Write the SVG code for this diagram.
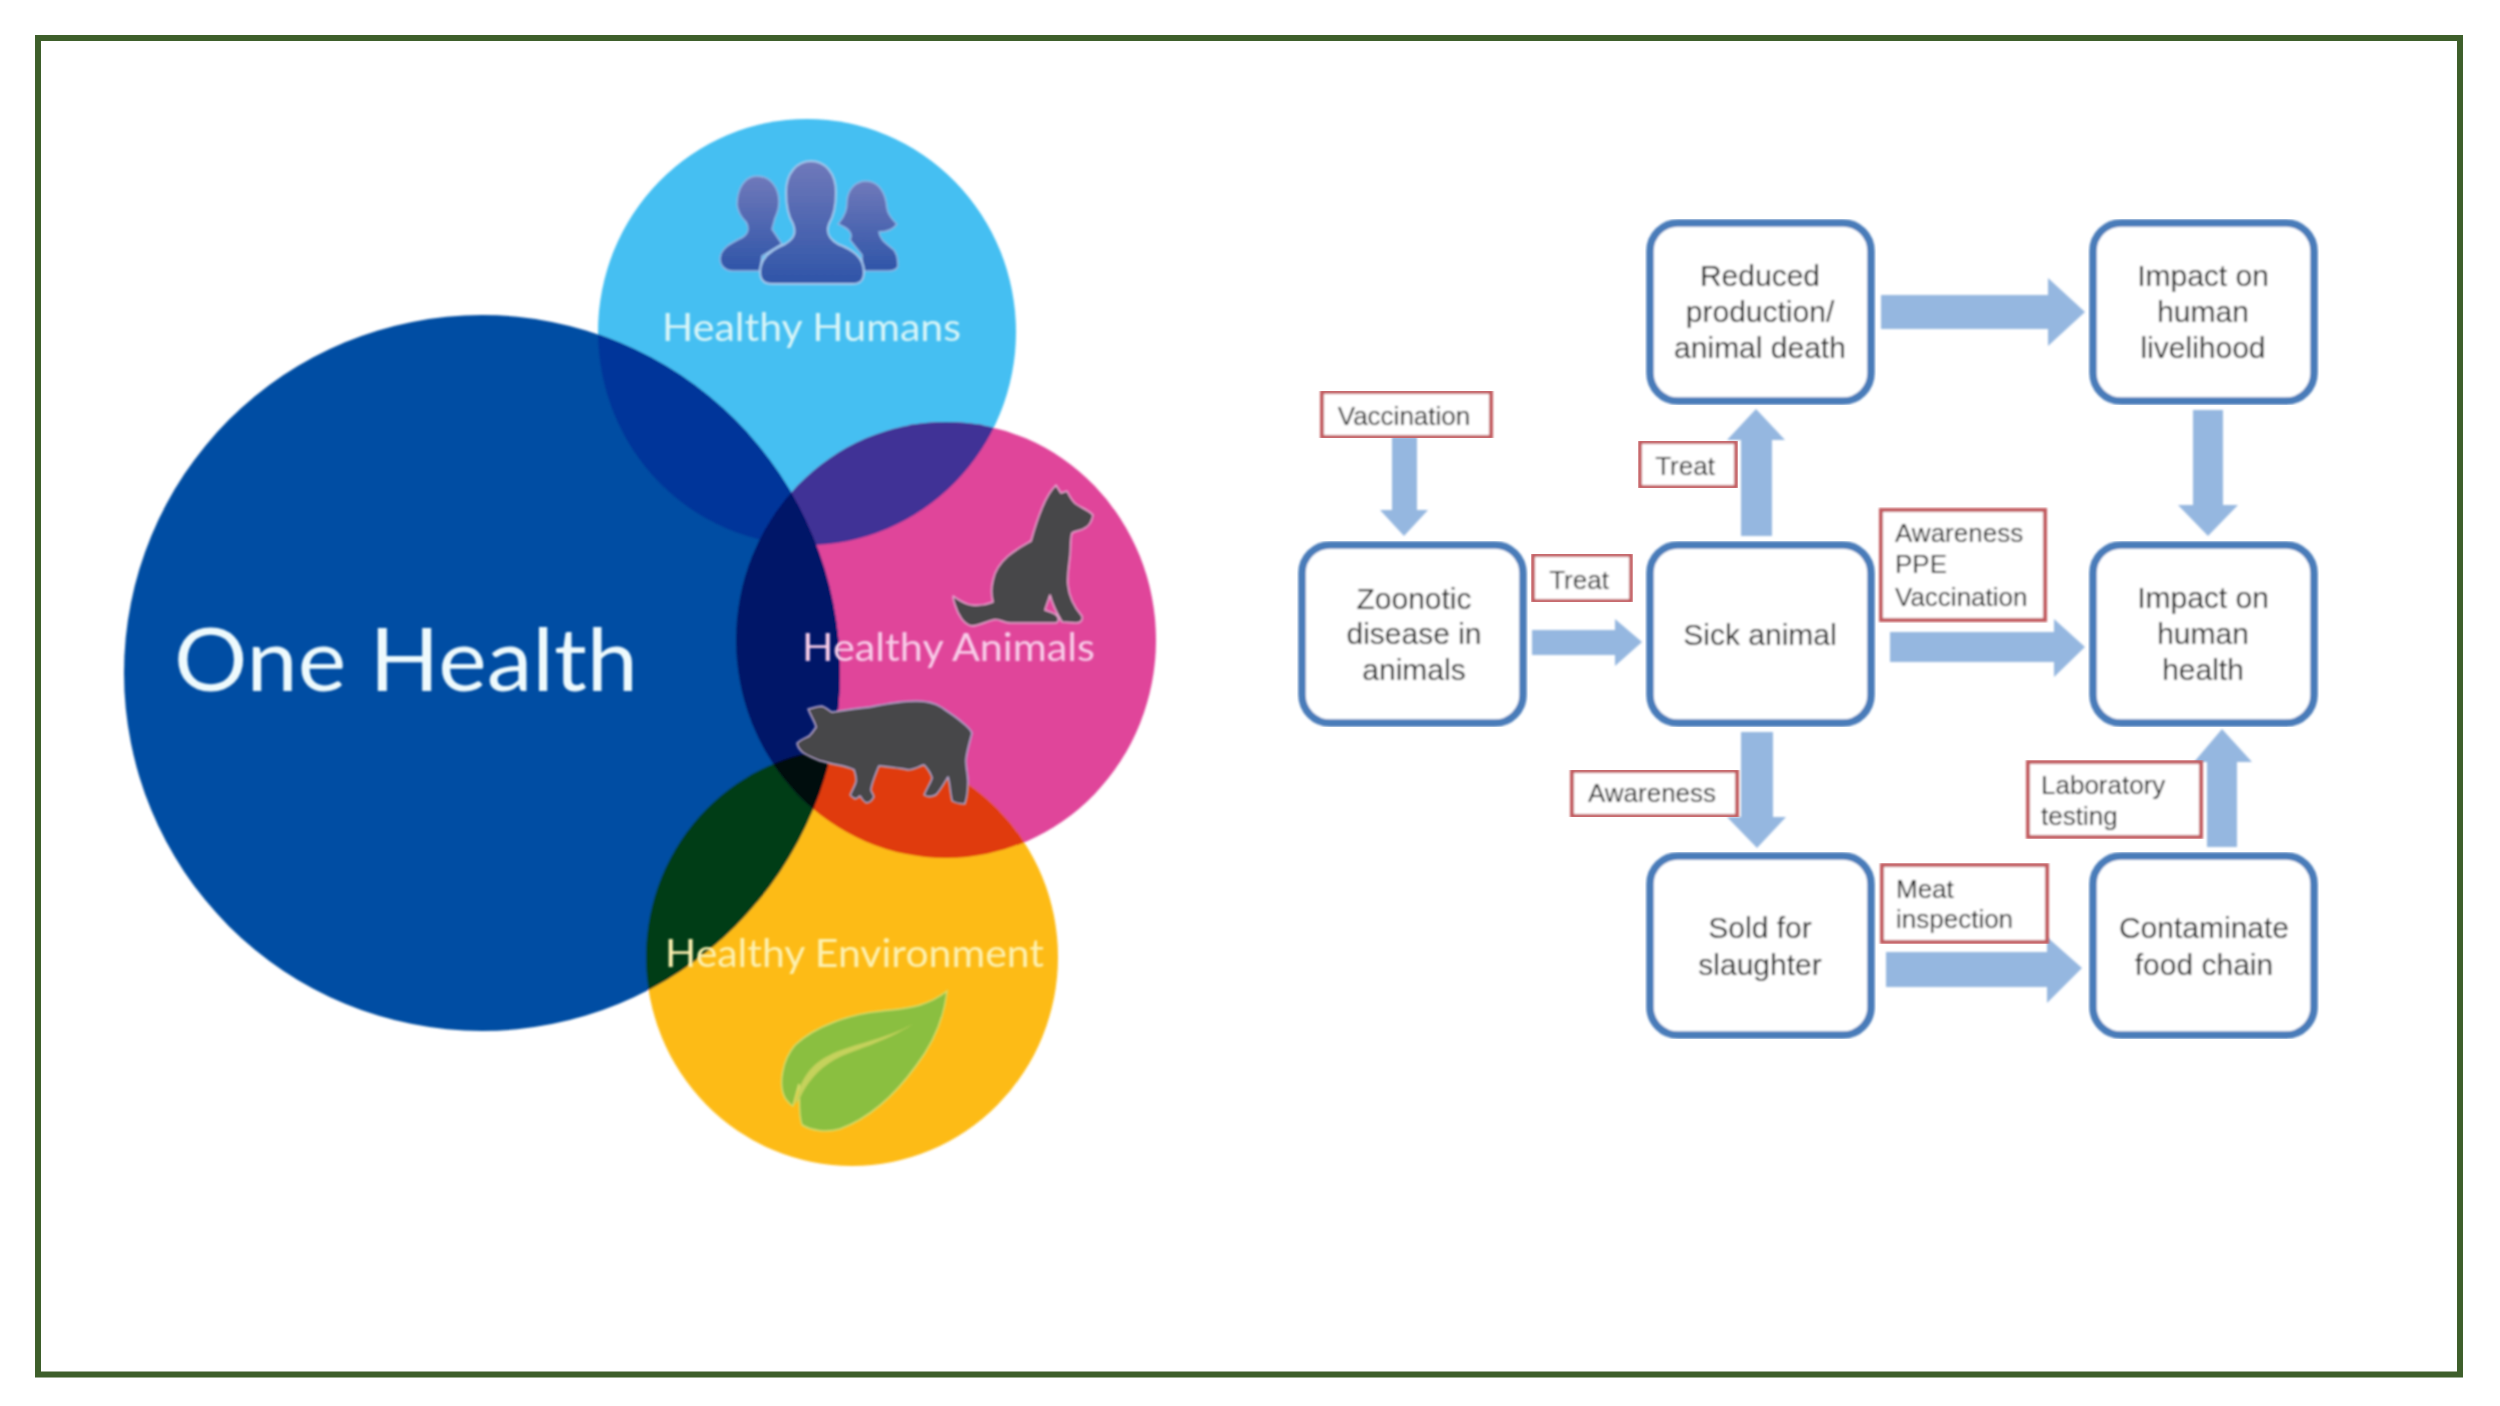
<svg xmlns="http://www.w3.org/2000/svg" width="2500" height="1406" viewBox="0 0 2500 1406">
<style>
.b{fill:#fff;stroke:#4a7cb9;stroke-width:7.5}
.l{fill:#fff;stroke:#c25c60;stroke-width:4}
.a{fill:#95b7e0}
.t{font-family:"Liberation Sans",Arial,sans-serif;font-size:30px;fill:#111;text-anchor:middle}
.s{font-family:"Liberation Sans",Arial,sans-serif;font-size:26px;fill:#111}
.m{text-anchor:middle}
.h{font-family:Lato,"Open Sans",sans-serif;font-size:38px;text-anchor:start}
</style>
<defs>
<clipPath id="cO"><circle cx="482" cy="673" r="358"/></clipPath>
<clipPath id="cH"><ellipse cx="807" cy="332" rx="209" ry="213"/></clipPath>
<clipPath id="cE"><ellipse cx="852" cy="957" rx="206" ry="209"/></clipPath>
<linearGradient id="gp" x1="0" y1="0" x2="0" y2="1"><stop offset="0" stop-color="#7079ba"/><stop offset="1" stop-color="#2f55a8"/></linearGradient>
<filter id="soft" x="-2%" y="-2%" width="104%" height="104%"><feGaussianBlur stdDeviation="0.8"/></filter>
</defs>
<rect width="2500" height="1406" fill="#fff"/>
<rect id="frame" x="38" y="38" width="2422" height="1336.500" fill="#fff" stroke="#3e5f2b" stroke-width="6"/>
<g id="venn" filter="url(#soft)">
<ellipse cx="807" cy="332" rx="209" ry="213" fill="#45bff2"/>
<ellipse cx="946" cy="640" rx="210" ry="218" fill="#e0459a"/>
<ellipse cx="852" cy="957" rx="206" ry="209" fill="#fdbb17"/>
<circle cx="482" cy="673" r="358" fill="#054ea3"/>
<g clip-path="url(#cH)"><circle cx="482" cy="673" r="358" fill="#02349a"/><ellipse cx="946" cy="640" rx="210" ry="218" fill="#3f3396"/></g>
<g clip-path="url(#cE)"><ellipse cx="946" cy="640" rx="210" ry="218" fill="#e03a10"/><circle cx="482" cy="673" r="358" fill="#033d12"/></g>
<g clip-path="url(#cO)"><ellipse cx="946" cy="640" rx="210" ry="218" fill="#011368"/></g>
<g clip-path="url(#cO)"><g clip-path="url(#cE)"><ellipse cx="946" cy="640" rx="210" ry="218" fill="#04080a"/></g></g>
</g>
<g id="healthy-humans" filter="url(#soft)">
<path d="M757 176C770 176 779 187 779 202C779 209 777 214 775 218L772 229L782 244L762 256L760 271L733 271C724 271 720 265 720 258C721 248 731 243 743 237C749 233 749 227 746 222C740 216 738 212 737 205C737 188 745 176 757 176Z" fill="url(#gp)" stroke="#8fb6e6" stroke-width="1.5"/>
<path d="M866 181C878 181 886 192 887 208C888 216 893 220 897 224C893 230 885 232 879 232C880 240 886 243 894 250C898 255 898 262 898 266C897 270 893 271 888 271L862 271L862 255L850 240C853 234 850 229 838 224C846 215 847 208 847 200C848 190 855 181 866 181Z" fill="url(#gp)" stroke="#8fb6e6" stroke-width="1.5"/>
<path d="M811 161C825 161 836 173 836 192C836 205 834 216 829 224C826 232 828 238 838 244C854 250 864 258 864 272C864 281 860 284 852 284L772 284C764 284 760 280 760 272C760 258 770 250 785 244C795 238 796 232 793 224C788 216 786 205 786 192C786 173 797 161 811 161Z" fill="url(#gp)" stroke="#a5c8ee" stroke-width="2"/>
<text class="h" x="662" y="341" fill="#d8f5f8" textLength="299" lengthAdjust="spacingAndGlyphs">Healthy Humans</text>
</g>
<g id="healthy-animals" filter="url(#soft)">
<path d="M1056 485L1061 493L1067 491C1070 497 1072 501 1076 504C1082 508 1090 511 1093 515C1092 521 1089 526 1085 528C1081 531 1075 531 1072 533C1070 540 1071 548 1070 556C1069 567 1067 575 1068 585C1069 596 1075 608 1082 616C1083 620 1081 623 1076 623L1062 622C1056 612 1052 603 1050 595C1048 602 1046 606 1045 610C1050 612 1056 613 1058 617C1059 621 1058 623 1055 623L1010 623C1003 623 998 618 993 620C985 622 978 626 972 626C964 625 958 615 955 605C954 602 953 599 953 596C958 599 964 604 972 605C980 606 988 604 993 602C991 595 991 588 993 580C995 570 1000 563 1008 556C1016 549 1024 545 1031 541C1034 530 1037 520 1042 508C1046 498 1051 490 1056 485Z" fill="#47464a" stroke="#e8a6cf" stroke-width="1.5" stroke-linejoin="round"/>
<text class="h" x="802" y="661" fill="#f8cce8" textLength="293" lengthAdjust="spacingAndGlyphs">Healthy Animals</text>
<path d="M808 709C812 708 818 706 822 706C826 707 828 710 832 712C845 710 858 708 870 707C885 704 900 701 916 701C928 701 935 703 941 707C950 713 958 718 963 723C968 727 971 730 972 733C970 742 967 750 966 760C966 768 968 775 968 782C968 790 967 798 965 804C960 804 955 803 952 801C950 793 950 785 948 777C944 784 940 791 936 795C932 797 927 797 924 795C926 789 930 784 932 778C930 772 927 768 924 765C918 767 914 770 908 770C898 768 888 767 879 766C876 774 872 782 871 790C872 793 874 795 874 797C872 801 869 803 866 803C863 801 861 798 860 796C858 798 857 799 855 799C853 798 851 797 850 795C852 790 855 786 856 781C856 777 855 773 854 770C848 767 842 766 837 765C830 764 825 762 820 761C813 758 807 756 802 752C799 749 797 746 797 743C800 740 805 738 809 736C812 733 814 730 816 727C814 720 810 715 808 709Z" fill="#47464a" stroke="#b9a7cf" stroke-width="1.500" stroke-linejoin="round"/>
</g>
<g id="healthy-environment" filter="url(#soft)">
<text class="h" x="665" y="967" fill="#fdf1b0" textLength="379" lengthAdjust="spacingAndGlyphs">Healthy Environment</text>
<path d="M947 991C925 1008 905 1008 881 1011C850 1014 815 1026 795 1045C782 1060 778 1085 785 1098C788 1102 790 1105 793 1106L799 1084C800 1100 798 1115 802 1125C812 1131 827 1133 840 1129C870 1118 895 1095 916 1066C932 1045 944 1020 947 991Z" fill="#8abf41" stroke="#d8dd6a" stroke-width="1.500"/>
<path d="M795 1105C800 1078 812 1064 828 1056C850 1044 885 1040 913 1024C884 1043 852 1050 834 1060C818 1069 806 1084 800 1098Z" fill="#c5d25c"/>
</g>
<g id="one-health" filter="url(#soft)">
<text x="174" y="691" font-family="Lato,'Open Sans',sans-serif" font-size="88" fill="#eefafd" textLength="464" lengthAdjust="spacingAndGlyphs">One Health</text>
</g>
<g id="connectors" filter="url(#soft)">
<polygon class="a" points="1392,437 1417,437 1417,510 1428,510 1404,536 1380,510 1392,510"/>
<polygon class="a" points="1532,630 1615,630 1615,619 1642,642 1615,666 1615,655 1532,655"/>
<polygon class="a" points="1741,536 1741,440 1727,440 1756,409 1785,440 1772,440 1772,536"/>
<polygon class="a" points="1881,295 2048,295 2048,278 2085,312 2048,346 2048,329 1881,329"/>
<polygon class="a" points="2193,410 2223,410 2223,505 2238,505 2208,536 2178,505 2193,505"/>
<polygon class="a" points="1890,632 2054,632 2054,619 2085,647 2054,677 2054,662 1890,662"/>
<polygon class="a" points="1741,732 1773,732 1773,817 1786,817 1757,848 1727,817 1741,817"/>
<polygon class="a" points="1886,952 2047,952 2047,937 2082,968 2047,1003 2047,987 1886,987"/>
<polygon class="a" points="2207,847 2207,762 2194,762 2222,729 2252,762 2237,762 2237,847"/>
</g>
<g id="node-reduced" filter="url(#soft)"><rect class="b" x="1650" y="223" width="221" height="178" rx="28"/><text class="t"><tspan x="1760" y="286">Reduced</tspan><tspan x="1760" y="322">production/</tspan><tspan x="1760" y="358">animal death</tspan></text></g>
<g id="node-livelihood" filter="url(#soft)"><rect class="b" x="2093" y="223" width="221" height="178" rx="28"/><text class="t"><tspan x="2203" y="286">Impact on</tspan><tspan x="2203" y="322">human</tspan><tspan x="2203" y="358">livelihood</tspan></text></g>
<g id="node-zoonotic" filter="url(#soft)"><rect class="b" x="1302" y="545" width="221" height="178" rx="28"/><text class="t"><tspan x="1414" y="609">Zoonotic</tspan><tspan x="1414" y="644">disease in</tspan><tspan x="1414" y="680">animals</tspan></text></g>
<g id="node-sick" filter="url(#soft)"><rect class="b" x="1650" y="545" width="221" height="178" rx="28"/><text class="t" x="1760" y="645">Sick animal</text></g>
<g id="node-health" filter="url(#soft)"><rect class="b" x="2093" y="545" width="221" height="178" rx="28"/><text class="t"><tspan x="2203" y="608">Impact on</tspan><tspan x="2203" y="644">human</tspan><tspan x="2203" y="680">health</tspan></text></g>
<g id="node-sold" filter="url(#soft)"><rect class="b" x="1650" y="856" width="221" height="179" rx="28"/><text class="t"><tspan x="1760" y="938">Sold for</tspan><tspan x="1760" y="975">slaughter</tspan></text></g>
<g id="node-contaminate" filter="url(#soft)"><rect class="b" x="2093" y="856" width="221" height="179" rx="28"/><text class="t"><tspan x="2204" y="938">Contaminate</tspan><tspan x="2204" y="975">food chain</tspan></text></g>
<g id="label-vaccination" filter="url(#soft)"><rect class="l" x="1322" y="392" width="169" height="45"/><text class="s m" x="1404" y="425">Vaccination</text></g>
<g id="label-treat-1" filter="url(#soft)"><rect class="l" x="1533" y="555" width="98" height="46"/><text class="s m" x="1579" y="589">Treat</text></g>
<g id="label-treat-2" filter="url(#soft)"><rect class="l" x="1640" y="442" width="96" height="45"/><text class="s m" x="1685" y="475">Treat</text></g>
<g id="label-awareness-ppe" filter="url(#soft)"><rect class="l" x="1881" y="510" width="164" height="110"/><text class="s"><tspan x="1895" y="542">Awareness</tspan><tspan x="1895" y="573">PPE</tspan><tspan x="1895" y="606">Vaccination</tspan></text></g>
<g id="label-awareness" filter="url(#soft)"><rect class="l" x="1572" y="771" width="165" height="45"/><text class="s m" x="1652" y="802">Awareness</text></g>
<g id="label-meat" filter="url(#soft)"><rect class="l" x="1882" y="865" width="165" height="77"/><text class="s"><tspan x="1896" y="898">Meat</tspan><tspan x="1896" y="928">inspection</tspan></text></g>
<g id="label-lab" filter="url(#soft)"><rect class="l" x="2028" y="762" width="173" height="75"/><text class="s"><tspan x="2041" y="794">Laboratory</tspan><tspan x="2041" y="825">testing</tspan></text></g>
</svg>
